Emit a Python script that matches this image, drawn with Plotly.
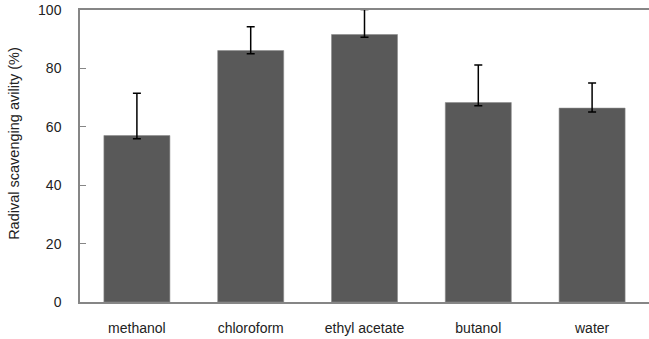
import plotly.graph_objects as go

categories = ["methanol", "chloroform", "ethyl acetate", "butanol", "water"]
values = [57.0, 86.1, 91.6, 68.3, 66.4]
err_plus = [14.5, 8.2, 8.6, 12.9, 8.6]
err_minus = [1.1, 1.1, 0.9, 1.1, 1.3]
y_ticks = [0, 20, 40, 60, 80, 100]

font_family = "Liberation Sans, Arial, sans-serif"

fig = go.Figure(
    go.Bar(
        x=categories,
        y=values,
        marker=dict(color="#595959", line=dict(color="#8c8c8c", width=0.6)),
        error_y=dict(
            type="data",
            symmetric=False,
            array=err_plus,
            arrayminus=err_minus,
            color="#000000",
            thickness=1.5,
            width=4,
        ),
        cliponaxis=False,
    )
)

fig.update_layout(
    width=649,
    height=339,
    margin=dict(l=80, r=0, t=10, b=37),
    paper_bgcolor="white",
    plot_bgcolor="white",
    bargap=0.42,
    showlegend=False,
    font=dict(family=font_family, size=14, color="#222222"),
    annotations=[
        dict(
            text="Radival scavenging avility (%)",
            textangle=-90,
            xref="paper",
            yref="paper",
            x=-0.116,
            y=0.545,
            xanchor="center",
            yanchor="middle",
            showarrow=False,
            font=dict(size=14.5),
        )
    ],
)

fig.update_xaxes(
    showline=True,
    linecolor="#868686",
    linewidth=1.5,
    mirror=True,
    ticks="outside",
    ticklen=12,
    tickcolor="rgba(0,0,0,0)",
    tickfont=dict(size=14),
    showgrid=False,
)

fig.update_yaxes(
    range=[0, 100],
    tickvals=y_ticks,
    showline=True,
    linecolor="#868686",
    linewidth=1.5,
    ticks="inside",
    ticklen=6,
    tickcolor="#868686",
    ticklabelstandoff=14,
    showgrid=False,
    zeroline=False,
    tickfont=dict(size=14),
)

fig.write_html(
    "out.html",
    config={"displayModeBar": False},
    post_script="document.body.style.margin='0';document.body.style.overflow='hidden';",
)
